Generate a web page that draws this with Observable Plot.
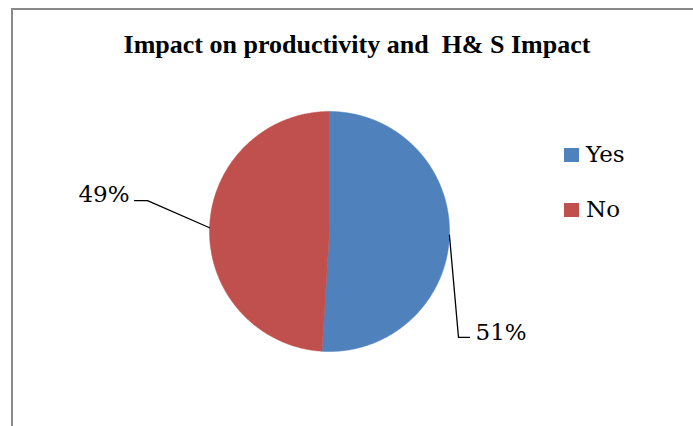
<!DOCTYPE html>
<html>
<head>
<meta charset="utf-8">
<script src="https://cdn.jsdelivr.net/npm/d3@7"></script>
<script src="https://cdn.jsdelivr.net/npm/@observablehq/plot@0.6"></script>
<style>
  html, body { margin: 0; padding: 0; background: #fff; }
  #wrap { position: relative; width: 693px; height: 426px; overflow: hidden; background: #fff; }
  #frame { position: absolute; left: 11px; top: 8px; width: 800px; height: 600px;
           border-left: 2px solid #8a8a8a; border-top: 2px solid #8a8a8a; }
  #title { position: absolute; left: 0; top: 32px; width: 714px; text-align: center;
           font-family: "Liberation Serif", "Times New Roman", Times, serif; font-weight: bold;
           font-size: 26px; line-height: 26px; color: #000; white-space: pre; }
  #chart { position: absolute; left: 0; top: 0; }
  .legend { position: absolute; left: 564px; font-family: "DejaVu Serif", serif; font-size: 23px;
            line-height: 26px; color: #000; white-space: nowrap; }
  .legend .sw { position: absolute; left: 0; width: 15px; height: 14px; }
  .legend .lb { position: absolute; left: 22px; }
  #probe { position: absolute; left: 20px; top: 380px; font-size: 20px; }
</style>
</head>
<body>
<div id="wrap">
  <div id="frame"></div>
  <div id="title"></div>
  <div id="chart"></div>
  <div id="legend"></div>
</div>
<script>
// ---- data ----
const title = "Impact on productivity and  H& S Impact";
const categories = ["Yes", "No"];
const values = [51, 49];
const labels = ["51%", "49%"];
const colors = ["#4F81BD", "#C0504D"];

// ---- layout (data units: pie radius = 1) ----
const leaderLayout = [
  {elbow: [1.075, -0.883], end: [1.167, -0.883], anchor: "start"},
  {elbow: [-1.517, 0.258], end: [-1.625, 0.258], anchor: "end"}
];
const labelFont = "'DejaVu Serif', serif";

document.getElementById("title").textContent = title;

// slice angles (clockwise from 12 o'clock)
const total = d3.sum(values);
let acc = 0;
const slices = categories.map((name, i) => {
  const a0 = acc / total * 2 * Math.PI;
  acc += values[i];
  const a1 = acc / total * 2 * Math.PI;
  return {name, value: values[i], label: labels[i], a0, a1, mid: (a0 + a1) / 2, i};
});

// polygon vertices of each slice
const pts = [];
for (const s of slices) {
  pts.push({name: s.name, x: 0, y: 0});
  const n = Math.max(2, Math.ceil((s.a1 - s.a0) / (Math.PI / 360)));
  for (let k = 0; k <= n; k++) {
    const a = s.a0 + (s.a1 - s.a0) * k / n;
    pts.push({name: s.name, x: Math.sin(a), y: Math.cos(a)});
  }
  pts.push({name: s.name, x: 0, y: 0});
}

// leader lines
const leaders = [];
const labelPts = [];
for (const s of slices) {
  const L = leaderLayout[s.i];
  leaders.push({name: s.name, x: Math.sin(s.mid), y: Math.cos(s.mid)});
  leaders.push({name: s.name, x: L.elbow[0], y: L.elbow[1]});
  leaders.push({name: s.name, x: L.end[0], y: L.end[1]});
  labelPts.push({x: L.end[0], y: L.end[1], text: s.label, anchor: L.anchor});
}

const plot = Plot.plot({
  width: 693,
  height: 426,
  margin: 0,
  style: {background: "transparent"},
  x: {domain: [-1, 1], range: [209, 449], axis: null},
  y: {domain: [-1, 1], range: [351, 111], axis: null},
  color: {domain: categories, range: colors},
  marks: [
    Plot.line(pts, {x: "x", y: "y", z: "name", fill: "name", stroke: "name", strokeWidth: 0.5, curve: "linear"}),
    Plot.line(leaders, {x: "x", y: "y", z: "name", stroke: "#000", strokeWidth: 1.3}),
    Plot.text(labelPts.filter(d => d.anchor === "start"), {x: "x", y: "y", text: "text", textAnchor: "start", lineAnchor: "bottom", dx: 6, dy: 3, fontSize: 23, fontFamily: labelFont, fill: "#000"}),
    Plot.text(labelPts.filter(d => d.anchor === "end"), {x: "x", y: "y", text: "text", textAnchor: "end", lineAnchor: "bottom", dx: -5, dy: 1, fontSize: 23, fontFamily: labelFont, fill: "#000"})
  ]
});
document.getElementById("chart").appendChild(plot);

// legend
const legendTops = [141, 196];
const leg = document.getElementById("legend");
categories.forEach((c, i) => {
  const item = document.createElement("div");
  item.className = "legend";
  item.style.top = legendTops[i] + "px";
  item.innerHTML = `<div class="sw" style="top:7px;background:${colors[i]}"></div><div class="lb">${c}</div>`;
  leg.appendChild(item);
});
</script>
</body>
</html>
